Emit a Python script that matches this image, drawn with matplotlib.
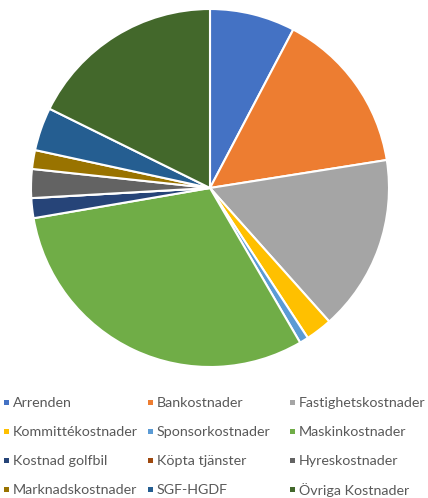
import matplotlib
matplotlib.use("Agg")
import matplotlib.pyplot as plt
from matplotlib.patches import Rectangle

# Kostnadsfördelning (andel i %)
categories = [
    "Arrenden", "Bankostnader", "Fastighetskostnader",
    "Kommittékostnader", "Sponsorkostnader", "Maskinkostnader",
    "Kostnad golfbil", "Köpta tjänster", "Hyreskostnader",
    "Marknadskostnader", "SGF-HGDF", "Övriga Kostnader",
]
values = [7.7, 14.8, 15.9, 2.4, 0.8, 30.7, 1.8, 0.0, 2.6, 1.7, 3.9, 17.7]
colors = [
    "#4472C4", "#ED7D31", "#A5A5A5", "#FFC000", "#5B9BD5", "#70AD47",
    "#264478", "#9E480E", "#636363", "#997300", "#255E91", "#43682B",
]

W, H = 428, 498
fig = plt.figure(figsize=(W / 100, H / 100), dpi=100)
fig.patch.set_facecolor("white")

# pie placed so centre ~ (210, 188) px, radius ~179 px
ax = fig.add_axes([31 / W, (H - 367) / H, 358 / W, 358 / H])
ax.pie(values, colors=colors, startangle=90, counterclock=False, radius=1,
       wedgeprops=dict(edgecolor="white", linewidth=1.5))
ax.set_xlim(-1, 1)
ax.set_ylim(-1, 1)
ax.set_aspect("equal")
ax.axis("off")

# legend, 3 columns filled row by row (Excel style), laid out in pixels
col_x = [4, 148, 290]
row_y = [402, 431, 460, 489]
sq = 5
for i, (cat, c) in enumerate(zip(categories, colors)):
    x = col_x[i % 3]
    y = row_y[i // 3]
    fig.add_artist(Rectangle((x / W, 1 - (y + sq / 2) / H), sq / W, sq / H,
                             transform=fig.transFigure, facecolor=c,
                             edgecolor="none"))
    fig.text((x + 9) / W, 1 - y / H, cat, family="Lato", fontsize=10.3,
             color="#595959", va="center_baseline", ha="left")

fig.savefig("out.png", dpi=100)
